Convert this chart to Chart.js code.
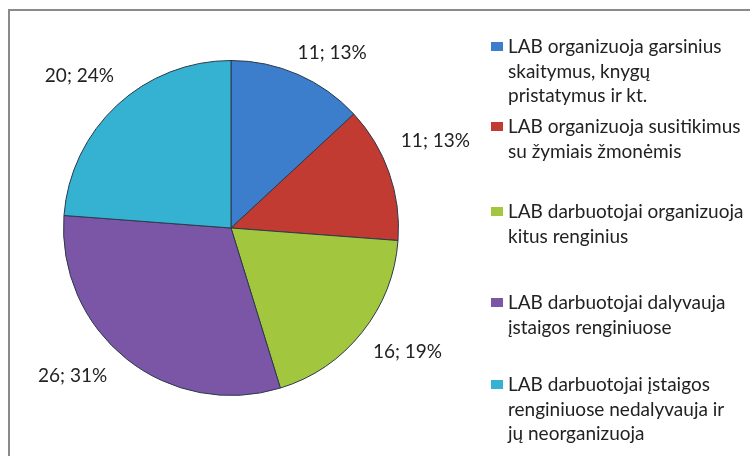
<!DOCTYPE html>
<html>
<head>
<meta charset="utf-8">
<script src="https://cdn.jsdelivr.net/npm/chart.js@4.4.0/dist/chart.umd.min.js"></script>
<style>
  html, body { margin: 0; padding: 0; background: #fff; }
  #wrap { position: relative; width: 756px; height: 456px; overflow: hidden; font-family: Lato, 'Open Sans', sans-serif; }
  #frame { position: absolute; left: 8px; top: 9px; width: 740px; height: 470px; border-top: 2px solid #8a8a8a; border-left: 2px solid #8a8a8a; }
  #chart { position: absolute; left: 0; top: 0; }
  #legend { position: absolute; left: 0; top: 0; width: 756px; height: 456px; }
  .item { position: absolute; left: 491px; color: #222; font-size: 19px; line-height: 24.5px; }
  .item .box { position: absolute; left: 0; top: 8px; width: 12px; height: 9px; }
  .item .txt { margin-left: 17px; white-space: nowrap; }
</style>
</head>
<body>
<div id="wrap">
  <div id="frame"></div>
  <canvas id="chart" width="756" height="456"></canvas>
  <div id="legend"></div>
</div>
<script>
// categories (legend lines as they wrap in the picture)
const categories = [
  ['LAB organizuoja garsinius', 'skaitymus, knygų', 'pristatymus ir kt.'],
  ['LAB organizuoja susitikimus', 'su žymiais žmonėmis'],
  ['LAB darbuotojai organizuoja', 'kitus renginius'],
  ['LAB darbuotojai dalyvauja', 'įstaigos renginiuose'],
  ['LAB darbuotojai įstaigos', 'renginiuose nedalyvauja ir', 'jų neorganizuoja']
];
const values = [11, 11, 16, 26, 20];
const percents = [13, 13, 19, 31, 24];
const colors = ['#3c7dcc', '#c23b33', '#a3c63f', '#7b55a6', '#35b1d2'];

// layout only
const legendTops = [34, 114, 199, 290, 372];
const labelNudge = [[15, 22], [1, -16], [8, -10], [-24, -21], [-5, 6]];

const legendEl = document.getElementById('legend');
categories.forEach((lines, i) => {
  const div = document.createElement('div');
  div.className = 'item';
  div.style.top = legendTops[i] + 'px';
  div.innerHTML = '<span class="box" style="background:' + colors[i] + '"></span>' +
    '<div class="txt">' + lines.join('<br>') + '</div>';
  legendEl.appendChild(div);
});

const sliceLabels = {
  id: 'sliceLabels',
  afterDatasetsDraw(chart) {
    const ctx = chart.ctx;
    const meta = chart.getDatasetMeta(0);
    ctx.save();
    ctx.font = '19px Lato, "Open Sans", sans-serif';
    ctx.fillStyle = '#222';
    ctx.textAlign = 'center';
    ctx.textBaseline = 'middle';
    meta.data.forEach((arc, i) => {
      const p = arc.getProps(['x', 'y', 'startAngle', 'endAngle', 'outerRadius'], true);
      const mid = (p.startAngle + p.endAngle) / 2;
      const d = p.outerRadius + 48;
      const x = p.x + Math.cos(mid) * d + labelNudge[i][0];
      const y = p.y + Math.sin(mid) * d + labelNudge[i][1];
      ctx.fillText(values[i] + '; ' + percents[i] + '%', x, y);
    });
    ctx.restore();
  }
};

new Chart(document.getElementById('chart'), {
  type: 'pie',
  data: {
    labels: categories.map(l => l.join(' ')),
    datasets: [{
      data: values,
      backgroundColor: colors,
      borderColor: '#2b3a4a',
      borderWidth: 1
    }]
  },
  options: {
    responsive: false,
    animation: false,
    layout: { padding: { left: 63, right: 357, top: 60, bottom: 60 } },
    plugins: {
      legend: { display: false },
      tooltip: { enabled: false }
    }
  },
  plugins: [sliceLabels]
});
</script>
</body>
</html>
